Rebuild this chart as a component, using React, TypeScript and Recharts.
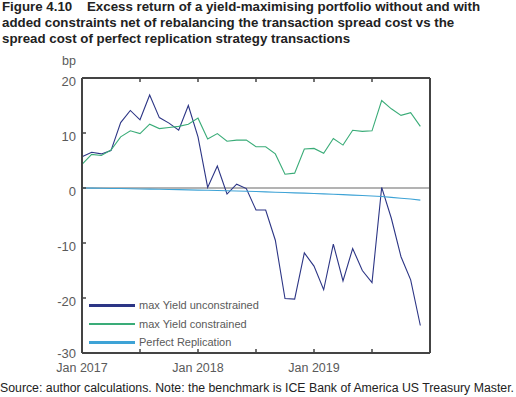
import { LineChart, Line, XAxis, YAxis, ReferenceLine } from "recharts"

const months = [
  "Jan 2017", "Feb 2017", "Mar 2017", "Apr 2017", "May 2017", "Jun 2017",
  "Jul 2017", "Aug 2017", "Sep 2017", "Oct 2017", "Nov 2017", "Dec 2017",
  "Jan 2018", "Feb 2018", "Mar 2018", "Apr 2018", "May 2018", "Jun 2018",
  "Jul 2018", "Aug 2018", "Sep 2018", "Oct 2018", "Nov 2018", "Dec 2018",
  "Jan 2019", "Feb 2019", "Mar 2019", "Apr 2019", "May 2019", "Jun 2019",
  "Jul 2019", "Aug 2019", "Sep 2019", "Oct 2019", "Nov 2019", "Dec 2019",
]

const unconstrained = [
  5.7, 6.5, 6.2, 6.8, 11.9, 14.1, 12.4, 16.9, 12.8, 11.8, 10.5, 15.0,
  9.3, 0.1, 4.0, -1.1, 0.7, -0.1, -4.0, -4.0, -9.5, -20.1, -20.2, -11.8,
  -14.2, -18.5, -10.2, -16.9, -11.0, -15.0, -17.2, 0.1, -5.5, -12.5, -16.7, -25.0,
]

const constrained = [
  4.3, 6.1, 5.9, 6.9, 9.3, 10.4, 9.9, 11.6, 10.8, 11.0, 11.2, 11.6,
  12.7, 8.9, 9.9, 8.5, 8.7, 8.7, 7.5, 7.5, 6.2, 2.5, 2.7, 7.1,
  7.2, 6.3, 9.0, 7.8, 10.5, 10.3, 10.4, 15.9, 14.4, 13.2, 13.7, 11.2,
]

const perfect = [
  0, -0.02, -0.05, -0.08, -0.1, -0.14, -0.17, -0.2, -0.23, -0.27, -0.3, -0.34,
  -0.38, -0.42, -0.46, -0.5, -0.55, -0.6, -0.65, -0.7, -0.76, -0.82, -0.88, -0.94,
  -1.0, -1.07, -1.14, -1.21, -1.29, -1.37, -1.46, -1.55, -1.7, -1.85, -2.0, -2.2,
]

// month index of each x tick (every 6 months), and which get a label
const xTicks = [0, 6, 12, 18, 24, 30, 36]
const xLabels: Record<number, string> = { 0: "Jan 2017", 12: "Jan 2018", 24: "Jan 2019" }
const yTicks = [20, 10, 0, -10, -20, -30]

const series = [
  { key: "unconstrained", name: "max Yield unconstrained", color: "#2c3585" },
  { key: "constrained", name: "max Yield constrained", color: "#3aac78" },
  { key: "perfect", name: "Perfect Replication", color: "#3ea3d6" },
]

const data = months.map((m, i) => ({
  t: i,
  month: m,
  unconstrained: unconstrained[i],
  constrained: constrained[i],
  perfect: perfect[i],
}))

const FRAME = "#444"
const TICK_TEXT = "#5a5a5a"
const FONT = "'Liberation Sans', Arial, sans-serif"

function BottomTick(props: any) {
  const { x, y, payload } = props
  const v = payload.value
  const label = xLabels[v]
  return (
    <g>
      {v !== 0 && v !== 36 && <line x1={x} x2={x} y1={y} y2={y - 4} stroke={FRAME} strokeWidth={1.5} />}
      {label && (
        <text x={x} y={y + 19} textAnchor="middle" fill={TICK_TEXT} fontSize={12.5} fontFamily={FONT}>
          {label}
        </text>
      )}
    </g>
  )
}

function TopTick(props: any) {
  const { x, y, payload } = props
  const v = payload.value
  if (v === 0 || v === 36) return <g />
  return <line x1={x} x2={x} y1={y} y2={y + 4} stroke={FRAME} strokeWidth={1.5} />
}

function LeftTick(props: any) {
  const { x, y, payload } = props
  const v = payload.value
  return (
    <g>
      {v !== 20 && v !== -30 && <line x1={x} x2={x + 4} y1={y} y2={y} stroke={FRAME} strokeWidth={1.5} />}
      <text x={x - 6} y={y + (v === -30 ? 5 : 8)} textAnchor="end" fill={TICK_TEXT} fontSize={13} fontFamily={FONT}>
        {v}
      </text>
    </g>
  )
}

function RightTick(props: any) {
  const { x, y, payload } = props
  const v = payload.value
  if (v === 20 || v === -30) return <g />
  return <line x1={x} x2={x - 4} y1={y} y2={y} stroke={FRAME} strokeWidth={1.5} />
}

export default function App() {
  return (
    <div style={{ position: "absolute", left: 0, top: 0, width: 516, height: 397, fontFamily: FONT, background: "#fff" }}>
      <div
        style={{
          position: "absolute",
          left: 2,
          top: -1,
          width: 514,
          fontSize: 13.3,
          fontWeight: 700,
          lineHeight: "16px",
          color: "#222",
          whiteSpace: "nowrap",
        }}
      >
        Figure 4.10&nbsp;&nbsp;&nbsp;&nbsp;Excess return of a yield-maximising portfolio without and with
        <br />
        added constraints net of rebalancing the transaction spread cost vs the
        <br />
        spread cost of perfect replication strategy transactions
      </div>
      <div style={{ position: "absolute", left: 62, top: 54, fontSize: 12.5, color: TICK_TEXT }}>bp</div>

      <div style={{ position: "absolute", left: 0, top: 0 }}>
        <LineChart width={516} height={397} data={data} margin={{ top: 77, right: 85, bottom: 14, left: 22 }}>
          <XAxis
            dataKey="t"
            type="number"
            domain={[0, 36]}
            ticks={xTicks}
            interval={0}
            height={30}
            tickSize={0}
            tickMargin={0}
            tickLine={false}
            tick={<BottomTick />}
            axisLine={{ stroke: FRAME, strokeWidth: 2 }}
          />
          <XAxis
            xAxisId="top"
            orientation="top"
            dataKey="t"
            type="number"
            domain={[0, 36]}
            ticks={xTicks}
            interval={0}
            height={1}
            tickSize={0}
            tickMargin={0}
            tickLine={false}
            tick={<TopTick />}
            axisLine={{ stroke: FRAME, strokeWidth: 2 }}
          />
          <YAxis
            type="number"
            domain={[-30, 20]}
            ticks={yTicks}
            interval={0}
            width={60}
            tickSize={0}
            tickMargin={0}
            tickLine={false}
            tick={<LeftTick />}
            axisLine={{ stroke: FRAME, strokeWidth: 2 }}
          />
          <YAxis
            yAxisId="r"
            orientation="right"
            type="number"
            domain={[-30, 20]}
            ticks={yTicks}
            interval={0}
            width={1}
            tickSize={0}
            tickMargin={0}
            tickLine={false}
            tick={<RightTick />}
            axisLine={{ stroke: FRAME, strokeWidth: 2 }}
          />
          <ReferenceLine y={0} stroke="#9a9a9a" strokeWidth={1.5} />
          {series.map((s) => (
            <Line
              key={s.key}
              dataKey={s.key}
              name={s.name}
              type="linear"
              stroke={s.color}
              strokeWidth={1.1}
              dot={false}
              activeDot={false}
              isAnimationActive={false}
            />
          ))}
        </LineChart>
      </div>

      <div style={{ position: "absolute", left: 89, top: 296 }}>
        {series.map((s) => (
          <div key={s.key} style={{ display: "flex", alignItems: "center", height: 18.5 }}>
            <div style={{ width: 46, height: 2.5, background: s.color, marginRight: 4 }} />
            <span style={{ fontSize: 11, color: TICK_TEXT }}>{s.name}</span>
          </div>
        ))}
      </div>

      <div
        style={{
          position: "absolute",
          left: 0,
          top: 381,
          fontSize: 12.3,
          lineHeight: "14px",
          color: "#222",
          whiteSpace: "nowrap",
        }}
      >
        Source: author calculations. Note: the benchmark is ICE Bank of America US Treasury Master.
      </div>
    </div>
  )
}
